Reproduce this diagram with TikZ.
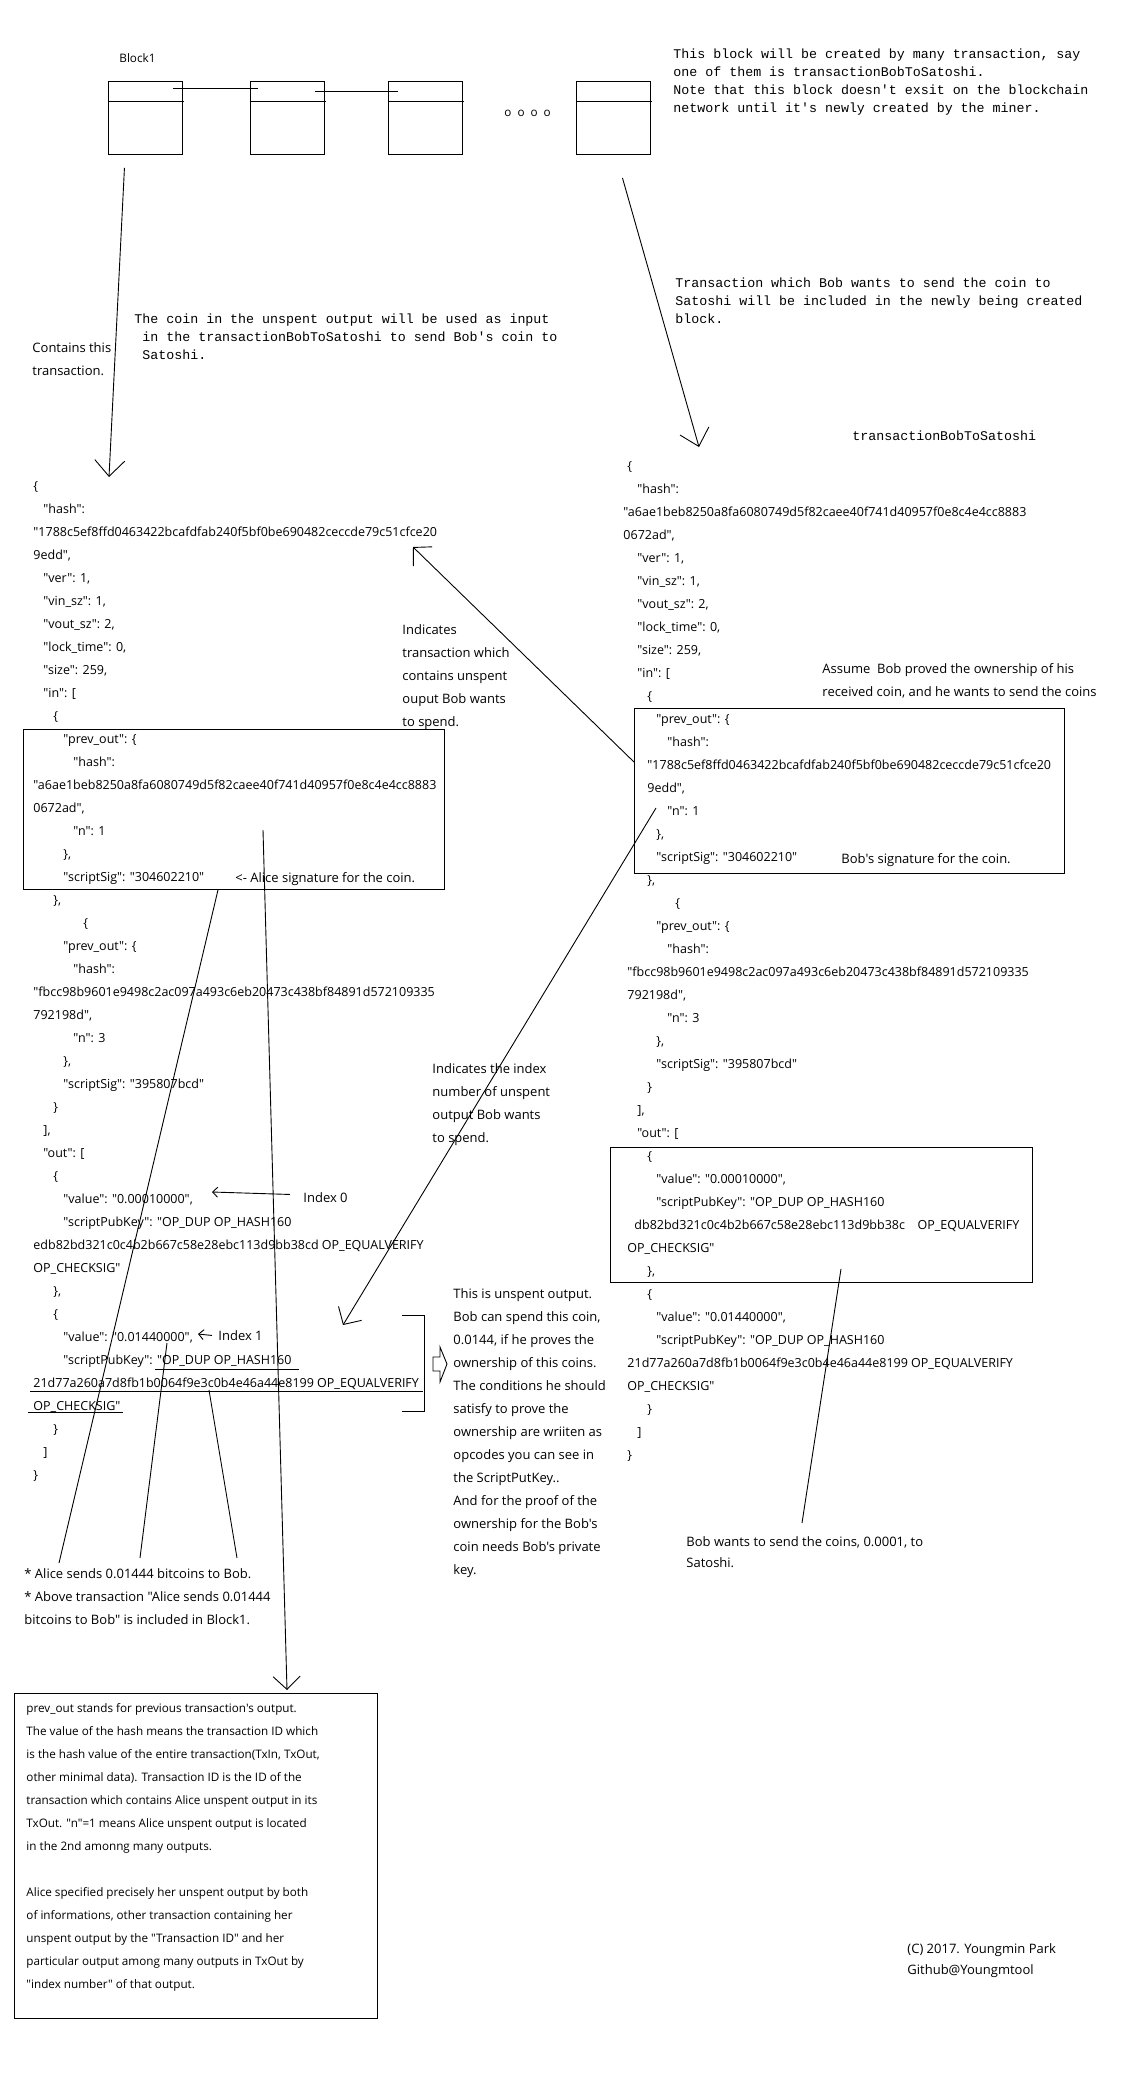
\documentclass[tikz,border=0pt]{standalone}
\usepackage{fontspec}
\usepackage{tikz}
\usetikzlibrary{arrows.meta,calc}
\setmainfont{Open Sans}[Ligatures=TeXOff]
\newfontfamily\fixfont{Liberation Mono}[Ligatures=TeXOff]
\newcommand{\ind}[1]{\hspace*{#1pt}}

\tikzset{
  txt/.style={anchor=north west, inner sep=0pt, align=left, yshift=-8pt,
    font=\fontsize{13}{23}\selectfont},
  jsontxt/.style={txt, font=\fontsize{12.5}{23}\selectfont},
  notetxt/.style={txt, yshift=1pt, font=\fontsize{11.7}{23}\selectfont},
  tighttxt/.style={txt, font=\fontsize{13}{21}\selectfont},
  monotxt/.style={anchor=north west, inner sep=0pt, align=left, yshift=-3pt,
    font=\fixfont\fontsize{13.3}{18}\selectfont},
  framebox/.style={draw, inner sep=0pt, anchor=north west},
  blockbox/.style={framebox, minimum width=74, minimum height=73},
  headbig/.style={-{Straight Barb[length=16pt,width=30pt]}},
  headmid/.style={-{Straight Barb[length=13pt,width=27pt]}},
  headsmall/.style={-{Straight Barb[length=5pt,width=10pt]}},
}

\begin{document}
\begin{tikzpicture}[x=1pt, y=-1pt, line width=0.9pt]
  \path[use as bounding box, fill=white] (0,0) rectangle (1136,2096);

  \foreach \x [count=\i] in {108,250,388,576} {
    \node[blockbox] (blk\i) at (\x,81) {};
    \draw ([yshift=-20pt]blk\i.north west) -- ++(76,0);
  }
  \draw ($(blk1.north east)+(-10,7)$) -- ($(blk2.north west)+(8,7)$);
  \draw ($(blk2.north east)+(-10,10)$) -- ($(blk3.north west)+(10,10)$);
  \node[notetxt] (blocklbl) at (119,46) {Block1};
  \node[notetxt] (dots) at (504,103) {o\hspace{6pt}o\hspace{6pt}o\hspace{6pt}o};
  \node[monotxt] (newblk) at (673,45) {This block will be created by many transaction, say\\
    one of them is transactionBobToSatoshi.\\
    Note that this block doesn't exsit on the blockchain\\
    network until it's newly created by the miner.};

  \node[txt] (contains) at (32,334) {Contains this\\transaction.};
  \node[monotxt] (coinuse) at (134,310) {The coin in the unspent output will be used as input\\
    \ in the transactionBobToSatoshi to send Bob's coin to\\
    \ Satoshi.};
  \node[monotxt] (included) at (675,274) {Transaction which Bob wants to send the coin to\\
    Satoshi will be included in the newly being created\\
    block.};
  \node[monotxt] (txname) at (852,427) {transactionBobToSatoshi};

  \coordinate (tipL) at (109,477);
  \coordinate (tipR) at (699,447);
  \draw[headbig] ($(blk1.south)+(-21,13)$) -- (tipL);
  \draw[headbig] ($(blk4.south)+(9,23)$) -- (tipR);

  \node[jsontxt] (jsonL) at (33,473) {\{\\
\ind{10}"hash":\\
"1788c5ef8ffd0463422bcafdfab240f5bf0be690482ceccde79c51cfce20\\
9edd",\\
\ind{10}"ver": 1,\\
\ind{10}"vin\_sz": 1,\\
\ind{10}"vout\_sz": 2,\\
\ind{10}"lock\_time": 0,\\
\ind{10}"size": 259,\\
\ind{10}"in": [\\
\ind{20}\{\\
\ind{30}"prev\_out": \{\\
\ind{40}"hash":\\
"a6ae1beb8250a8fa6080749d5f82caee40f741d40957f0e8c4e4cc8883\\
0672ad",\\
\ind{40}"n": 1\\
\ind{30}\},\\
\ind{30}"scriptSig": "304602210"\\
\ind{20}\},\\
\ind{50}\{\\
\ind{30}"prev\_out": \{\\
\ind{40}"hash":\\
"fbcc98b9601e9498c2ac097a493c6eb20473c438bf84891d572109335\\
792198d",\\
\ind{40}"n": 3\\
\ind{30}\},\\
\ind{30}"scriptSig": "395807bcd"\\
\ind{20}\}\\
\ind{10}],\\
\ind{10}"out": [\\
\ind{20}\{\\
\ind{30}"value": "0.00010000",\\
\ind{30}"scriptPubKey": "OP\_DUP OP\_HASH160\\
edb82bd321c0c4b2b667c58e28ebc113d9bb38cd OP\_EQUALVERIFY\\
OP\_CHECKSIG"\\
\ind{20}\},\\
\ind{20}\{\\
\ind{30}"value": "0.01440000",\\
\ind{30}"scriptPubKey": "OP\_DUP OP\_HASH160\\
21d77a260a7d8fb1b0064f9e3c0b4e46a44e8199 OP\_EQUALVERIFY\\
OP\_CHECKSIG"\\
\ind{20}\}\\
\ind{10}]\\
\}};

  \node[jsontxt] (jsonR) at (623,453) {\ind{4}\{\\
\ind{14}"hash":\\
"a6ae1beb8250a8fa6080749d5f82caee40f741d40957f0e8c4e4cc8883\\
0672ad",\\
\ind{14}"ver": 1,\\
\ind{14}"vin\_sz": 1,\\
\ind{14}"vout\_sz": 2,\\
\ind{14}"lock\_time": 0,\\
\ind{14}"size": 259,\\
\ind{14}"in": [\\
\ind{24}\{\\
\ind{33}"prev\_out": \{\\
\ind{44}"hash":\\
\ind{24}"1788c5ef8ffd0463422bcafdfab240f5bf0be690482ceccde79c51cfce20\\
\ind{24}9edd",\\
\ind{44}"n": 1\\
\ind{33}\},\\
\ind{33}"scriptSig": "304602210"\\
\ind{24}\},\\
\ind{52}\{\\
\ind{33}"prev\_out": \{\\
\ind{44}"hash":\\
\ind{4}"fbcc98b9601e9498c2ac097a493c6eb20473c438bf84891d572109335\\
\ind{4}792198d",\\
\ind{44}"n": 3\\
\ind{33}\},\\
\ind{33}"scriptSig": "395807bcd"\\
\ind{24}\}\\
\ind{14}],\\
\ind{14}"out": [\\
\ind{24}\{\\
\ind{33}"value": "0.00010000",\\
\ind{33}"scriptPubKey": "OP\_DUP OP\_HASH160\\
\ind{11}\makebox[283pt][l]{db82bd321c0c4b2b667c58e28ebc113d9bb38c}OP\_EQUALVERIFY\\
\ind{4}OP\_CHECKSIG"\\
\ind{24}\},\\
\ind{24}\{\\
\ind{33}"value": "0.01440000",\\
\ind{33}"scriptPubKey": "OP\_DUP OP\_HASH160\\
\ind{4}21d77a260a7d8fb1b0064f9e3c0b4e46a44e8199 OP\_EQUALVERIFY\\
\ind{4}OP\_CHECKSIG"\\
\ind{24}\}\\
\ind{14}]\\
\ind{4}\}};

  \node[framebox, minimum width=421, minimum height=160] (inL) at (23,729) {};
  \node[framebox, minimum width=430, minimum height=165] (inR) at (634,708) {};
  \node[framebox, minimum width=422, minimum height=135] (outR) at (610,1147) {};

  \node[txt] (alicesig) at (235,864) {<- Alice signature for the coin.};
  \node[txt] (bobsig) at (841,845) {Bob's signature for the coin.};
  \node[txt] (assume) at (822,655) {Assume\ \ Bob proved the ownership of his\\
    received coin, and he wants to send the coins};
  \node[txt] (indtx) at (402,616) {Indicates\\transaction which\\contains unspent\\ouput Bob wants\\to spend.};
  \node[txt] (indidx) at (432,1055) {Indicates the index\\number of unspent\\output Bob wants\\to spend.};

  \coordinate (hashL) at (413,547);
  \coordinate (outL) at (343,1325);
  \draw[headmid] ($(inR.north west)+(0,54)$) -- (hashL);
  \draw[headmid] ($(inR.north west)+(22,100)$) -- (outL);

  \node[txt] (idx0) at (303,1184) {Index 0};
  \node[txt] (idx1) at (218,1322) {Index 1};
  \coordinate (val0) at (212,1192);
  \coordinate (val1) at (198,1334);
  \draw[headsmall] ($(idx0.west)+(-13,-3)$) -- (val0);
  \draw[headsmall] ($(idx1.west)+(-6,0)$) -- (val1);

  \draw (155,1369) -- (299,1369);
  \draw (30,1391) -- (423,1391);
  \draw (28,1412) -- (123,1412);
  \draw (402,1315) -- (424,1315) -- (424,1411) -- (402,1411);
  \draw (433,1357) -- (440,1357) -- (440,1347) -- (447,1364) -- (440,1382)
    -- (440,1371) -- (433,1371) -- cycle;

  \node[txt] (unspent) at (453,1280) {This is unspent output.\\
    Bob can spend this coin,\\
    0.0144, if he proves the\\
    ownership of this coins.\\
    The conditions he should\\
    satisfy to prove the\\
    ownership are wriiten as\\
    opcodes you can see in\\
    the ScriptPutKey..\\
    And for the proof of the\\
    ownership for the Bob's\\
    coin needs Bob's private\\
    key.};

  \node[txt] (alice) at (24,1560) {* Alice sends 0.01444 bitcoins to Bob.\\
    * Above transaction "Alice sends 0.01444\\
    bitcoins to Bob" is included in Block1.};
  \coordinate (val1src) at (167,1343);
  \coordinate (pubsrc) at (209,1390);
  \coordinate (nsrc) at (263,830);
  \draw ($(inL.south west)+(195,0)$) -- ($(alice.north west)+(35,-5)$);
  \draw (val1src) -- ($(alice.north west)+(116,-10)$);
  \draw (pubsrc) -- ($(alice.north west)+(213,-10)$);

  \node[framebox, minimum width=363, minimum height=325] (notebox) at (14,1693) {};
  \node[notetxt] (notetext) at (26,1696) {prev\_out stands for previous transaction's output.\\
    The value of the hash means the transaction ID which\\
    is the hash value of the entire transaction(TxIn, TxOut,\\
    other minimal data). Transaction ID is the ID of the\\
    transaction which contains Alice unspent output in its\\
    TxOut. "n"=1 means Alice unspent output is located\\
    in the 2nd amonng many outputs.\\
    \mbox{}\\
    Alice specified precisely her unspent output by both\\
    of informations, other transaction containing her\\
    unspent output by the "Transaction ID" and her\\
    particular output among many outputs in TxOut by\\
    "index number" of that output.};
  \draw[headmid] (nsrc) -- ($(notebox.north west)+(273,-3)$);

  \node[tighttxt] (bobwants) at (686,1528) {Bob wants to send the coins, 0.0001, to\\Satoshi.};
  \draw ($(outR.south west)+(231,-14)$) -- ($(bobwants.north west)+(116,-13)$);

  \node[tighttxt] (credit) at (907,1935) {(C) 2017. Youngmin Park\\Github@Youngmtool};
\end{tikzpicture}
\end{document}
